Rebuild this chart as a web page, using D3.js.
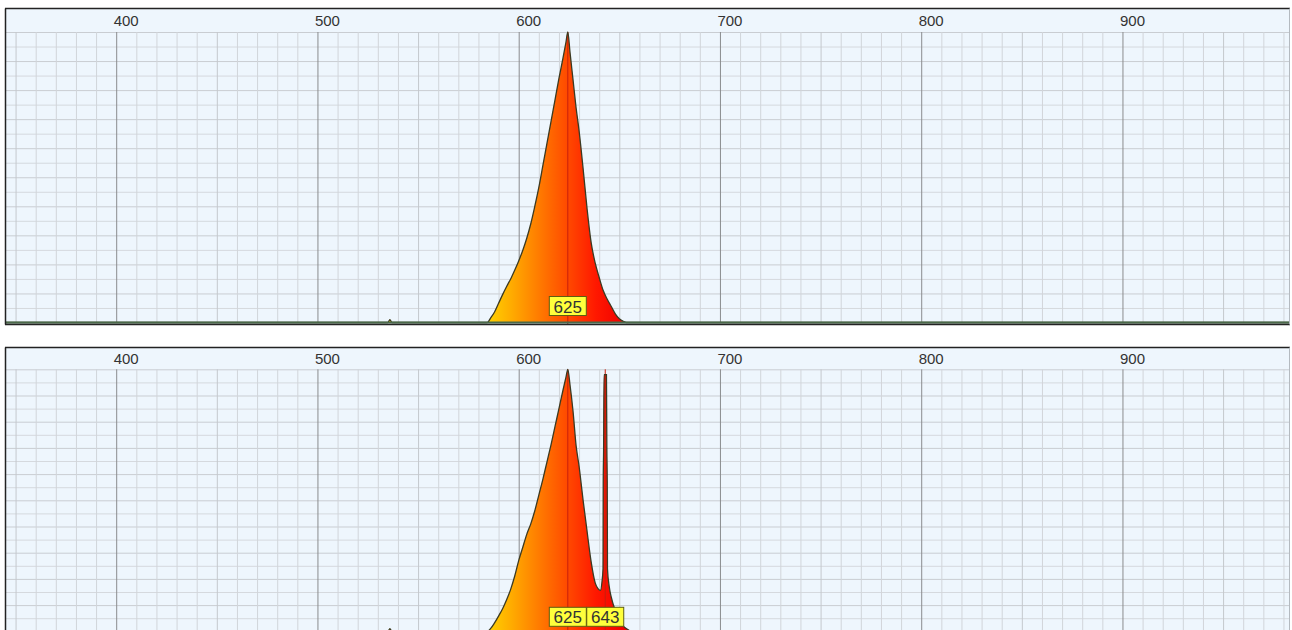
<!DOCTYPE html>
<html>
<head>
<meta charset="utf-8">
<script src="https://cdn.jsdelivr.net/npm/d3@7"></script>
<style>
html, body { margin: 0; padding: 0; background: #fff; overflow: hidden; }
svg { display: block; }
</style>
</head>
<body>
<svg id="chart"></svg>
<script>
// wavelength axis (nm)
const wlRange = [345, 983];
const tickLabels = [400, 500, 600, 700, 800, 900];

// upper spectrum: single LED peak
const topNm  = [345, 535, 536, 537, 584.4, 586, 588, 590, 592, 594, 596, 598, 600, 602, 604, 606, 608, 610, 612, 614, 616, 618, 620, 622, 623.5, 624.4,
                625.5, 627, 628.5, 630, 632, 634, 636, 638, 640, 642, 644, 646, 648, 650, 652, 653.5, 983];
const topVal = [0, 0, 1, 0, 0, 1.5, 3.6, 6.6, 9.6, 12.4, 15, 18, 21.2, 24.8, 29, 34, 40, 46.5, 54, 61.5, 69, 76.5, 84, 91, 96.5, 100,
                93, 83.5, 74, 66, 53, 39, 27.5, 20.5, 15.5, 11, 8, 5.5, 3, 1.3, 0.4, 0, 0];

// lower spectrum: LED peak plus a narrow line
const botNm  = [345, 535, 536, 537, 584.5, 586, 588, 590, 592, 594, 596, 598, 600, 602, 604, 606, 608, 610, 612, 614, 616, 618, 620, 622, 623.5, 624.4,
                625.5, 627, 628.5, 630, 632, 634, 636, 638, 639.5, 640.6, 641.4, 641.9, 642.0, 642.2, 642.4, 643.6, 643.8, 644.0, 644.1,
                645, 646, 648, 650, 652, 654, 656, 983];
const botVal = [0, 0, 1, 0, 0, 1, 3.2, 5.8, 8.6, 12, 16, 21, 27, 32, 37, 41, 46, 52, 58, 64.5, 71, 78, 85, 92, 97, 100,
                94, 84, 71, 63, 50, 38, 26.5, 18.5, 16.2, 15.6, 19, 24, 57, 70, 98, 98, 70, 57, 24,
                17, 13, 8, 4.5, 2, 0.8, 0, 0];

// marked peaks
const topPeaks = [624.4];
const topPeakLabels = ['625'];
const botPeaks = [624.4, 643.0];
const botPeakLabels = ['625', '643'];

const W = 1292, H = 630;
const svg = d3.select('#chart').attr('width', W).attr('height', H);

const x = d3.scaleLinear().domain(wlRange).range([5.5, 1289.5]);

// spectral fill, yellow -> red
const defs = svg.append('defs');
const grad = defs.append('linearGradient')
    .attr('id', 'spec')
    .attr('gradientUnits', 'userSpaceOnUse')
    .attr('x1', x(584)).attr('x2', x(652))
    .attr('y1', 0).attr('y2', 0);
[[0, '#ffd400'], [0.18, '#ffac00'], [0.38, '#ff7c00'], [0.6, '#ff4800'], [0.8, '#ff1800'], [1, '#f00000']]
    .forEach(s => grad.append('stop').attr('offset', s[0]).attr('stop-color', s[1]));

function drawPanel(cfg, nm, val, peaks, peakLabels) {
    const g = svg.append('g');
    const x0 = x.range()[0], x1 = x.range()[1];
    const plotH = cfg.baseline - cfg.headerBottom;

    const y = d3.scaleLinear().domain([0, 100]).range([cfg.baseline, cfg.headerBottom]);

    // background
    g.append('rect')
        .attr('x', x0).attr('y', cfg.top)
        .attr('width', x1 - x0).attr('height', cfg.bottom - cfg.top)
        .attr('fill', '#eef6fd');

    // horizontal grid
    const ygrid = g.append('g')
        .attr('transform', `translate(${x0},0)`)
        .call(d3.axisLeft(y).tickValues(d3.range(0, 101, 5)).tickSize(-(x1 - x0)).tickFormat(''));
    ygrid.select('.domain').remove();
    ygrid.selectAll('line').attr('stroke', d => d % 10 === 0 ? '#c9cdd2' : '#d5d9de');

    // vertical grid, minor + major
    const xgrid = g.append('g')
        .attr('transform', `translate(0,${cfg.baseline})`)
        .call(d3.axisBottom(x).tickValues(d3.range(350, 990, 10)).tickSize(-plotH).tickFormat(''));
    xgrid.select('.domain').remove();
    xgrid.selectAll('line')
        .attr('stroke', d => d % 100 === 0 ? '#8a8c8e' : (d % 50 === 0 ? '#c4c8cd' : '#d1d5da'));

    // tick labels in the header band
    const xlab = g.append('g')
        .attr('transform', `translate(0,${cfg.top})`)
        .call(d3.axisBottom(x).tickValues(tickLabels).tickSize(0).tickFormat(d3.format('d')));
    xlab.select('.domain').remove();
    xlab.selectAll('text')
        .attr('y', cfg.labelY).attr('dy', 0).attr('dx', 9.5)
        .attr('fill', '#333')
        .style('font-family', '"Liberation Sans", Arial, sans-serif')
        .style('font-size', '15px');

    const pts = nm.map((d, i) => ({ nm: d, v: val[i] }));

    const area = d3.area()
        .curve(d3.curveMonotoneX)
        .x(d => x(d.nm))
        .y0(y(0))
        .y1(d => y(d.v));
    const line = d3.line()
        .curve(d3.curveMonotoneX)
        .x(d => x(d.nm))
        .y(d => y(d.v));

    g.append('path')
        .attr('d', area(pts))
        .attr('fill', 'url(#spec)');

    // peak markers
    peaks.forEach(p => {
        g.append('line')
            .attr('x1', x(p)).attr('x2', x(p))
            .attr('y1', y(100)).attr('y2', cfg.bottom)
            .attr('stroke', '#c8200c')
            .attr('stroke-width', 1);
    });

    g.append('path')
        .attr('d', line(pts))
        .attr('fill', 'none')
        .attr('stroke', '#3b3a22')
        .attr('stroke-width', 1.3);

    // baseline
    g.append('line')
        .attr('x1', x0).attr('x2', x1)
        .attr('y1', cfg.baseline).attr('y2', cfg.baseline)
        .attr('stroke', '#4a6a4a').attr('stroke-width', 2);

    // peak labels
    const bw = 37, bh = 19;
    let prevRight = -Infinity;
    peaks.forEach((p, i) => {
        let left = Math.max(x(p) - bw / 2, prevRight);
        prevRight = left + bw;
        const by = cfg.baseline - cfg.labelGap - bh;
        g.append('rect')
            .attr('x', left).attr('y', by)
            .attr('width', bw).attr('height', bh)
            .attr('fill', '#ffff3c')
            .attr('stroke', '#5e5e10')
            .attr('stroke-width', 1);
        g.append('text')
            .attr('x', left + bw / 2).attr('y', by + bh - 3)
            .attr('text-anchor', 'middle')
            .attr('fill', '#333')
            .style('font-family', '"Liberation Sans", Arial, sans-serif')
            .style('font-size', '17px')
            .text(peakLabels[i]);
    });

    // frame
    g.append('line').attr('x1', x0 - 0.5).attr('x2', x1 + 0.5).attr('y1', cfg.top).attr('y2', cfg.top)
        .attr('stroke', '#222').attr('stroke-width', 1.5);
    g.append('line').attr('x1', x0).attr('x2', x0).attr('y1', cfg.top).attr('y2', cfg.bottom)
        .attr('stroke', '#222').attr('stroke-width', 1.5);
    g.append('line').attr('x1', x0 - 0.5).attr('x2', x1 + 0.5).attr('y1', cfg.bottom).attr('y2', cfg.bottom)
        .attr('stroke', '#222').attr('stroke-width', 1.5);
    g.append('line').attr('x1', x1).attr('x2', x1).attr('y1', cfg.top).attr('y2', cfg.bottom)
        .attr('stroke', '#b4bac0').attr('stroke-width', 1);
}

drawPanel({ top: 8.5, headerBottom: 32, baseline: 322.5, bottom: 324.5, labelY: 17.5, labelGap: 7 },
    topNm, topVal, topPeaks, topPeakLabels);

drawPanel({ top: 347.5, headerBottom: 369.3, baseline: 631.3, bottom: 633.5, labelY: 16.5, labelGap: 5 },
    botNm, botVal, botPeaks, botPeakLabels);
</script>
</body>
</html>
